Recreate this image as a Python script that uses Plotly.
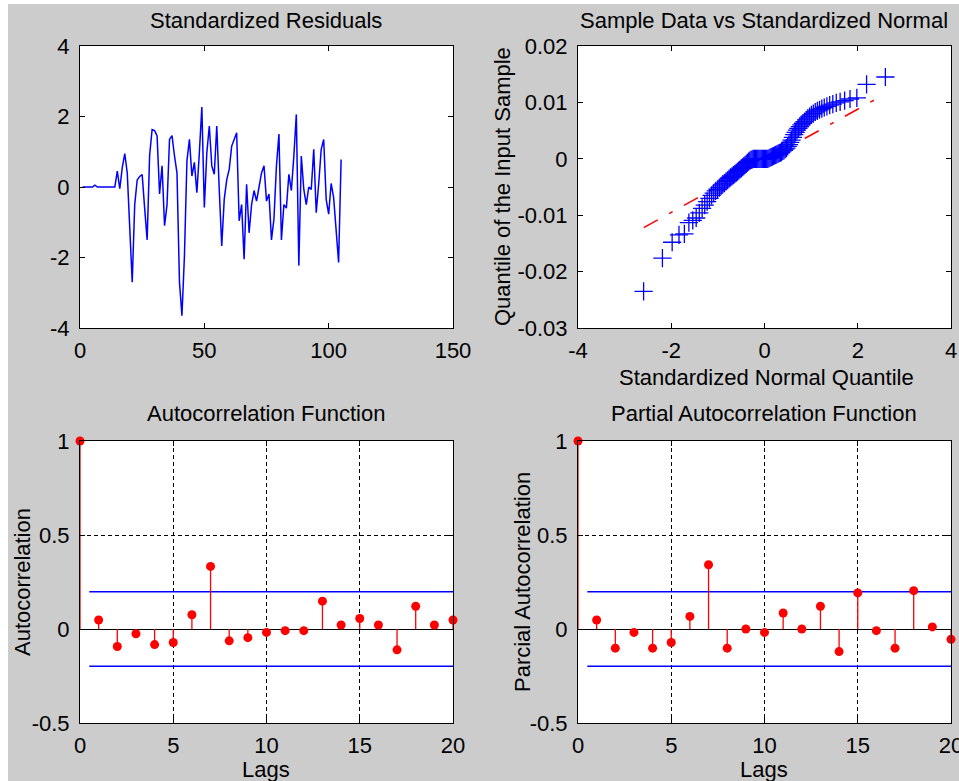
import plotly.graph_objects as go
from statistics import NormalDist

W, H = 959, 781

# ---------------- data ----------------
resid_x = list(range(1, 106))
resid_y = [0, 0, 0, 0, 0, 0.05, 0, 0, 0, 0, 0, 0, 0, 0,
           0.45, -0.05, 0.55, 0.95, 0.4, -1.1, -2.7, -0.5, 0.2, 0.3,
           0.35, -0.6, -1.5, 0.9, 1.63, 1.6, 1.45, -0.2, 0.6, -1.1,
           -0.5, 1.35, 1.46, 0.88, 0.4, -2.7, -3.65, -1.95, 0.74, 1.35,
           0.31, 0.7, -0.16, 0.97, 2.27, -0.58, 0.97, 1.73, 0.6, 0.36,
           1.73, -0.07, -1.67, -0.35, 0.2, 0.5, 1.16, 1.35, 1.54, -0.96,
           -0.5, -2.05, 0.08, -1.3, -0.5, -0.1, -0.4, 0.0, 0.4, 0.6,
           -0.4, -0.2, -1.5, -0.9, 0.6, 1.5, -1.5, -0.5, -0.6, 0.36,
           -0.1, 0.88, 2.06, -2.23, 0.88, -0.07, -0.5, 0.0, -0.07, 1.07,
           -0.73, 0.1, 1.07, 1.35, -0.35, -0.77, 0.1, -0.3, -1.34, -2.14,
           0.78]

qq_sample = [
    -0.0235, -0.0176, -0.0148, -0.0135, -0.0133, -0.0113, -0.0109, -0.0105, -0.0096, -0.0088,
    -0.0082, -0.0076, -0.0070, -0.0065, -0.0061, -0.0057, -0.0054, -0.0051, -0.0048, -0.0045,
    -0.0043, -0.0040, -0.0038, -0.0035, -0.0033, -0.0031, -0.0029, -0.0027, -0.0025, -0.0023,
    -0.0021, -0.0019, -0.0017, -0.0015, -0.0013, -0.0011, -0.0009, -0.0007, -0.0005, -0.0003,
    -0.0002, -0.0001,
    0, 0, 0, 0, 0, 0, 0, 0, 0, 0, 0, 0, 0, 0,
    0.0001, 0.0002, 0.0003, 0.0004, 0.0005, 0.0006, 0.0007, 0.0008, 0.0009, 0.0010,
    0.0011, 0.0012, 0.0014, 0.0015, 0.0017, 0.0019, 0.0022, 0.0025, 0.0029, 0.0033,
    0.0038, 0.0043, 0.0047, 0.0051, 0.0054, 0.0057, 0.0060, 0.0063, 0.0066, 0.0069,
    0.0072, 0.0075, 0.0078, 0.0080, 0.0083, 0.0085, 0.0087, 0.0089, 0.0091, 0.0093,
    0.0095, 0.0097, 0.0099, 0.0101, 0.0103, 0.0106, 0.0108, 0.0132, 0.0145]
qq_line_x = [-2.59, 2.59]
qq_line_y = [-0.0122, 0.0115]

lags = list(range(21))
acf_vals = [1.0, 0.048, -0.093, -0.025, -0.083, -0.072, 0.076, 0.333, -0.063, -0.046,
            -0.018, -0.009, -0.009, 0.148, 0.021, 0.056, 0.021, -0.111, 0.121, 0.021, 0.048]
pacf_vals = [1.0, 0.048, -0.102, -0.018, -0.102, -0.072, 0.067, 0.342, -0.102, 0.0,
             -0.018, 0.085, 0.0, 0.121, -0.12, 0.192, -0.009, -0.102, 0.204, 0.011, -0.055]
conf_bound = 0.198
bound_x = [0.5, 20]

# theoretical normal quantiles (qqplot plotting positions)
n = len(qq_sample)
qq_theo = [NormalDist().inv_cdf((i + 0.5) / n) for i in range(n)]

# ---------------- layout helpers ----------------
FONT = "Liberation Sans, Arial, sans-serif"
FS = 22


def px(x):
    return x / W


def py(y):
    return 1 - y / H


LEFT = [px(80), px(453)]
RIGHT = [px(578), px(951)]
TOP = [py(328), py(46)]
BOT = [py(723), py(441)]


def axis(domain, rng, vals, texts, anchor, grid=False, zeroline=False, is_x=True):
    d = dict(domain=domain, range=rng, tickvals=vals, ticktext=texts, anchor=anchor,
             showline=True, linecolor="black", linewidth=1, mirror="ticks",
             ticks="inside", ticklen=5, tickcolor="black", tickwidth=1,
             tickfont=dict(family=FONT, size=FS, color="black"),
             showgrid=grid, zeroline=zeroline, automargin=False, fixedrange=True,
             ticklabeloverflow="allow")
    if grid:
        d.update(gridcolor="black", gridwidth=1, griddash="4px,3px")
    if zeroline:
        d.update(zerolinecolor="black", zerolinewidth=1)
    d["ticklabelstandoff"] = 3 if is_x else 5
    return d


fig = go.Figure()

# Standardized residuals
fig.add_trace(go.Scatter(x=resid_x, y=resid_y, mode="lines",
                         line=dict(color="blue", width=1.5), xaxis="x", yaxis="y"))

# QQ plot
fig.add_trace(go.Scatter(x=qq_line_x, y=qq_line_y, mode="lines",
                         line=dict(color="red", width=1.5, dash="16px,13px,4px,13px"),
                         xaxis="x2", yaxis="y2"))
fig.add_trace(go.Scatter(x=qq_theo, y=qq_sample, mode="markers",
                         marker=dict(symbol="cross-thin-open", size=13, color="blue",
                                     line=dict(color="blue", width=1.3)),
                         xaxis="x2", yaxis="y2"))


def stems(vals, xa, ya):
    sx, sy = [], []
    for lag, v in zip(lags, vals):
        sx += [lag, lag, None]
        sy += [0, v, None]
    fig.add_trace(go.Scatter(x=bound_x, y=[conf_bound, conf_bound], mode="lines",
                             line=dict(color="blue", width=1.5), xaxis=xa, yaxis=ya))
    fig.add_trace(go.Scatter(x=bound_x, y=[-conf_bound, -conf_bound], mode="lines",
                             line=dict(color="blue", width=1.5), xaxis=xa, yaxis=ya))
    fig.add_trace(go.Scatter(x=sx, y=sy, mode="lines", line=dict(color="red", width=1.3),
                             xaxis=xa, yaxis=ya, cliponaxis=False))
    fig.add_trace(go.Scatter(x=lags, y=vals, mode="markers",
                             marker=dict(color="red", size=9, line=dict(width=0)),
                             xaxis=xa, yaxis=ya, cliponaxis=False))


stems(acf_vals, "x3", "y3")
stems(pacf_vals, "x4", "y4")

lag_ticks = [0, 5, 10, 15, 20]
lag_text = ["0", "5", "10", "15", "20"]
cor_ticks = [-0.5, 0, 0.5, 1]
cor_text = ["-0.5", "0", "0.5", "1"]

fig.update_layout(
    width=W, height=H,
    margin=dict(l=0, r=0, t=0, b=0),
    paper_bgcolor="#cccccc", plot_bgcolor="white",
    showlegend=False,
    font=dict(family=FONT, size=FS, color="black"),
    xaxis=axis(LEFT, [0, 150], [0, 50, 100, 150], ["0", "50", "100", "150"], "y"),
    yaxis=axis(TOP, [-4, 4], [-4, -2, 0, 2, 4], ["-4", "-2", "0", "2", "4"], "x", is_x=False),
    xaxis2=axis(RIGHT, [-4, 4], [-4, -2, 0, 2, 4], ["-4", "-2", "0", "2", "4"], "y2"),
    yaxis2=axis(TOP, [-0.03, 0.02], [-0.03, -0.02, -0.01, 0, 0.01, 0.02],
                ["-0.03", "-0.02", "-0.01", "0", "0.01", "0.02"], "x2", is_x=False),
    xaxis3=axis(LEFT, [0, 20], lag_ticks, lag_text, "y3", grid=True),
    yaxis3=axis(BOT, [-0.5, 1], cor_ticks, cor_text, "x3", grid=True, zeroline=True, is_x=False),
    xaxis4=axis(RIGHT, [0, 20], lag_ticks, lag_text, "y4", grid=True),
    yaxis4=axis(BOT, [-0.5, 1], cor_ticks, cor_text, "x4", grid=True, zeroline=True, is_x=False),
)

# thin white border strips of the screenshot
fig.add_shape(type="rect", xref="paper", yref="paper", x0=0, x1=px(8), y0=0, y1=1,
              fillcolor="white", line=dict(width=0), layer="below")
fig.add_shape(type="rect", xref="paper", yref="paper", x0=0, x1=1, y0=py(4), y1=1,
              fillcolor="white", line=dict(width=0), layer="below")


def label(text, x, y, angle=0):
    fig.add_annotation(text=text, x=px(x), y=py(y), xref="paper", yref="paper",
                       showarrow=False, xanchor="center", yanchor="middle",
                       textangle=angle, font=dict(family=FONT, size=FS, color="black"))


label("Standardized Residuals", 266, 20)
label("Sample Data vs Standardized Normal", 764, 20)
label("Autocorrelation Function", 266, 413)
label("Partial Autocorrelation Function", 764, 413)
label("Standardized Normal Quantile", 766, 377)
label("Lags", 266, 769)
label("Lags", 764, 769)
label("Quantile of the Input Sample", 502, 187, -90)
label("Autocorrelation", 22, 582, -90)
label("Parcial Autocorrelation", 522, 582, -90)

fig.write_html("out.html")
